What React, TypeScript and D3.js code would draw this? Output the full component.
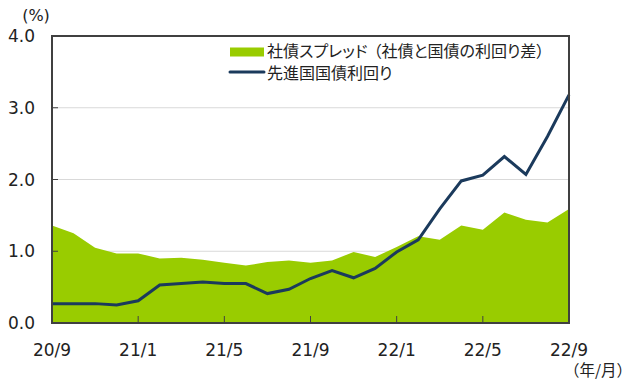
import React, { useEffect, useRef } from 'react';
import * as d3 from 'd3';

// monthly, 20/9 .. 22/9
const months: string[] = [
  '20/9', '20/10', '20/11', '20/12', '21/1', '21/2', '21/3', '21/4', '21/5', '21/6', '21/7', '21/8', '21/9',
  '21/10', '21/11', '21/12', '22/1', '22/2', '22/3', '22/4', '22/5', '22/6', '22/7', '22/8', '22/9',
];
const spread: number[] = [
  1.36, 1.25, 1.05, 0.97, 0.97, 0.9, 0.91, 0.88, 0.84, 0.8, 0.85, 0.87, 0.84,
  0.87, 0.99, 0.92, 1.06, 1.21, 1.16, 1.36, 1.3, 1.54, 1.44, 1.4, 1.59,
];
const yields: number[] = [
  0.27, 0.27, 0.27, 0.25, 0.31, 0.53, 0.55, 0.57, 0.55, 0.55, 0.41, 0.47, 0.62,
  0.73, 0.63, 0.76, 0.99, 1.16, 1.59, 1.98, 2.06, 2.32, 2.07, 2.6, 3.18,
];
const xTickLabels: string[] = ['20/9', '21/1', '21/5', '21/9', '22/1', '22/5', '22/9'];
const yTicks: number[] = [0, 1, 2, 3, 4];
const legendLabels: string[] = ['社債スプレッド（社債と国債の利回り差）', '先進国国債利回り'];

const GREEN = '#99cc00';
const NAVY = '#1b3a5c';
const FRAME = '#404040';

const App: React.FC = () => {
  const svgRef = useRef<SVGSVGElement | null>(null);

  useEffect(() => {
    const width = 640;
    const height = 385;
    const margin = { top: 36, right: 71, bottom: 62, left: 52 };

    const svg = d3.select(svgRef.current)
      .attr('width', width)
      .attr('height', height);
    svg.selectAll('*').remove();

    const x = d3.scaleLinear()
      .domain([0, months.length - 1])
      .range([margin.left, width - margin.right]);
    const y = d3.scaleLinear()
      .domain([0, 4])
      .range([height - margin.bottom, margin.top]);

    // gridlines
    svg.append('g')
      .selectAll('line')
      .data(yTicks.filter(d => d > 0 && d < 4))
      .enter()
      .append('line')
      .attr('x1', margin.left)
      .attr('x2', width - margin.right)
      .attr('y1', d => y(d))
      .attr('y2', d => y(d))
      .attr('stroke', '#d9d9d9')
      .attr('stroke-width', 1);

    // spread area
    const area = d3.area<number>()
      .x((_, i) => x(i))
      .y0(y(0))
      .y1(d => y(d));
    svg.append('path')
      .datum(spread)
      .attr('d', area)
      .attr('fill', GREEN);

    // yield line
    const line = d3.line<number>()
      .x((_, i) => x(i))
      .y(d => y(d));
    svg.append('path')
      .datum(yields)
      .attr('d', line)
      .attr('fill', 'none')
      .attr('stroke', NAVY)
      .attr('stroke-width', 3)
      .attr('stroke-linejoin', 'miter');

    // frame
    svg.append('rect')
      .attr('x', margin.left)
      .attr('y', margin.top)
      .attr('width', width - margin.right - margin.left)
      .attr('height', height - margin.bottom - margin.top)
      .attr('fill', 'none')
      .attr('stroke', FRAME)
      .attr('stroke-width', 2);

    // x ticks (inside, pointing up)
    const tickIdx = xTickLabels.map(l => months.indexOf(l));
    svg.append('g')
      .selectAll('line')
      .data(tickIdx)
      .enter()
      .append('line')
      .attr('x1', d => x(d))
      .attr('x2', d => x(d))
      .attr('y1', y(0))
      .attr('y2', y(0) - 7)
      .attr('stroke', FRAME)
      .attr('stroke-width', 1);

    // y ticks
    svg.append('g')
      .selectAll('line')
      .data(yTicks)
      .enter()
      .append('line')
      .attr('x1', margin.left)
      .attr('x2', margin.left + 6)
      .attr('y1', d => y(d))
      .attr('y2', d => y(d))
      .attr('stroke', FRAME)
      .attr('stroke-width', 1);

    const font = '"DejaVu Sans", Verdana, sans-serif';

    svg.append('g')
      .selectAll('text')
      .data(yTicks)
      .enter()
      .append('text')
      .attr('x', margin.left - 17)
      .attr('y', d => y(d))
      .attr('dy', '0.36em')
      .attr('text-anchor', 'end')
      .attr('font-family', font)
      .attr('font-size', 17)
      .attr('fill', '#222')
      .text(d => d.toFixed(1));

    svg.append('g')
      .selectAll('text')
      .data(tickIdx)
      .enter()
      .append('text')
      .attr('x', d => x(d))
      .attr('y', 350)
      .attr('dy', '0.36em')
      .attr('text-anchor', 'middle')
      .attr('font-family', font)
      .attr('font-size', 17)
      .attr('fill', '#222')
      .text((_, i) => xTickLabels[i]);

    const jp = '"Noto Sans CJK JP", sans-serif';

    svg.append('text')
      .attr('x', 36)
      .attr('y', 15)
      .attr('dy', '0.36em')
      .attr('text-anchor', 'middle')
      .attr('font-family', font)
      .attr('font-size', 16)
      .attr('fill', '#222')
      .text('(%)');

    svg.append('text')
      .attr('x', 632)
      .attr('y', 370)
      .attr('dy', '0.36em')
      .attr('text-anchor', 'end')
      .attr('font-family', jp)
      .attr('font-size', 15.5)
      .attr('fill', '#222')
      .text('（年/月）');

    // legend
    const lg = svg.append('g').attr('transform', 'translate(230, 52)');
    lg.append('rect')
      .attr('x', 0)
      .attr('y', -4.5)
      .attr('width', 34)
      .attr('height', 9)
      .attr('fill', GREEN);
    lg.append('line')
      .attr('x1', 0)
      .attr('x2', 34)
      .attr('y1', 20)
      .attr('y2', 20)
      .attr('stroke', NAVY)
      .attr('stroke-width', 3)
      .attr('stroke-linecap', 'round');
    const texts = lg.selectAll('text')
      .data(legendLabels)
      .enter()
      .append('text')
      .attr('x', 37)
      .attr('y', (_, i) => i * 22 - 1)
      .attr('dy', '0.36em')
      .attr('font-family', jp)
      .attr('font-size', 16)
      .style('font-feature-settings', '"palt"')
      .attr('fill', '#222');
    // keep a little room before the opening bracket
    texts.each(function (d) {
      const parts = d.split(/(?=（)/);
      const t = d3.select(this);
      parts.forEach((p, k) => {
        t.append('tspan')
          .attr('dx', k > 0 ? 6 : 0)
          .text(p);
      });
    });
  }, []);

  return <svg ref={svgRef} style={{ position: 'absolute', left: 0, top: 0 }}></svg>;
};

export default App;
